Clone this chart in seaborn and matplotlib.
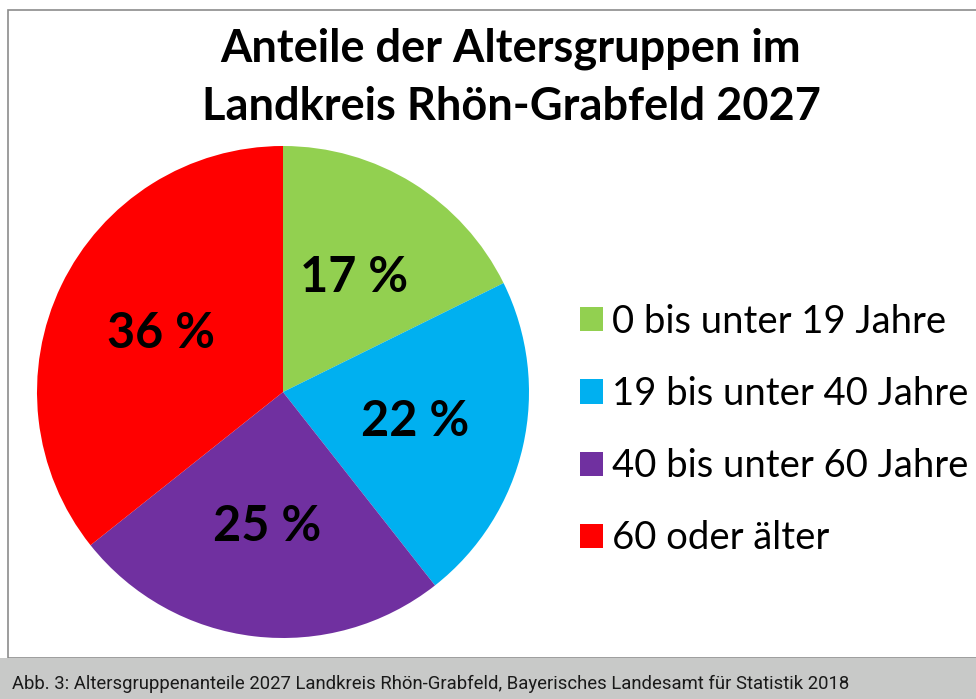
"""Kreisdiagramm: Anteile der Altersgruppen im Landkreis Rhön-Grabfeld 2027."""

import matplotlib.pyplot as plt
from matplotlib.patches import Rectangle
import seaborn as sns

groups = [
    "0 bis unter 19 Jahre",
    "19 bis unter 40 Jahre",
    "40 bis unter 60 Jahre",
    "60 oder älter",
]
shares = [17.7, 21.7, 24.9, 35.7]
share_labels = ["17 %", "22 %", "25 %", "36 %"]
colors = ["#92d050", "#00b0f0", "#7030a0", "#ff0000"]

title = "Anteile der Altersgruppen im\nLandkreis Rhön-Grabfeld 2027"
caption = ("Abb. 3: Altersgruppenanteile 2027 Landkreis Rhön-Grabfeld, "
           "Bayerisches Landesamt für Statistik 2018")

sns.set_theme(style="white")
plt.rcParams["font.family"] = ["Lato", "DejaVu Sans"]
plt.rcParams["text.color"] = "black"
palette = sns.color_palette(colors)

W, H = 976, 699
fig = plt.figure(figsize=(W / 100, H / 100), dpi=100)
fig.patch.set_facecolor("white")

# rahmen und bildunterschrift
fig.add_artist(Rectangle((8 / W, 1 - 658 / H), 1, (658 - 10) / H,
                         transform=fig.transFigure, facecolor="none",
                         edgecolor="#8c8c8c", linewidth=1.2, zorder=-1))
fig.add_artist(Rectangle((0, 0), 1, (H - 658) / H, transform=fig.transFigure,
                         facecolor="#c8c9c8", edgecolor="none"))
fig.text(12 / W, 1 - 684 / H, caption, fontsize=13.3, color="#1a1a1a",
         va="center", ha="left",
         family=["Liberation Sans Narrow", "Roboto", "DejaVu Sans"])

# kreis: mitte (283, 392), radius 246 px
cx, cy, r = 283, 392, 246
ax = fig.add_axes([(cx - r) / W, (H - cy - r) / H, 2 * r / W, 2 * r / H])
wedges, _, autotexts = ax.pie(
    shares,
    colors=palette,
    startangle=90,
    counterclock=False,
    autopct="%1.0f",
    pctdistance=0.55,
    wedgeprops={"linewidth": 0},
)
for t, lab in zip(autotexts, share_labels):
    t.set_text(lab)
    t.set_fontsize(35)
    t.set_fontweight("bold")
    t.set_color("black")
ax.set_xlim(-1, 1)
ax.set_ylim(-1, 1)
ax.set_aspect("equal")
ax.axis("off")

fig.text(511 / W, 1 - 78 / H, title, fontsize=32.5, fontweight="bold",
         ha="center", va="center", linespacing=1.48, color="black")

leg = fig.legend(
    wedges,
    groups,
    loc="center left",
    bbox_to_anchor=(580 / W, 1 - 430 / H),
    frameon=False,
    fontsize=27.5,
    handlelength=0.6,
    handleheight=0.6,
    handletextpad=0.25,
    labelspacing=0.95,
    borderaxespad=0,
    borderpad=0,
)
for t in leg.get_texts():
    t.set_color("black")

fig.savefig("out.png", dpi=100)
